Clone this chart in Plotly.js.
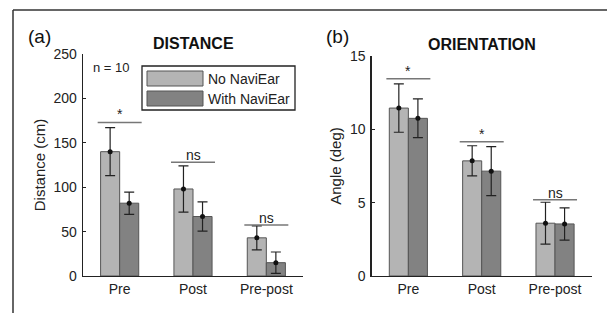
<!DOCTYPE html>
<html>
<head>
<meta charset="utf-8">
<script src="https://cdn.plot.ly/plotly-3.0.1.min.js"></script>
<style>html,body{margin:0;padding:0;background:#fff;}#chart{width:607px;height:313px;}</style>
</head>
<body>
<div id="chart"></div>
<script>
// ---- data ----
var categories = ['Pre', 'Post', 'Pre-post'];
var seriesNames = ['No NaviEar', 'With NaviEar'];

var distNo = [140, 98, 43];
var distNoErr = [27, 26, 13.5];
var distWith = [82, 67, 15];
var distWithErr = [12.5, 16.5, 12];
var distSigY = [173, 128, 57.5];
var distSigLabel = ['*', 'ns', 'ns'];

var angNo = [11.45, 7.85, 3.6];
var angNoErr = [1.65, 1.03, 1.43];
var angWith = [10.75, 7.15, 3.55];
var angWithErr = [1.32, 1.67, 1.1];
var angSigY = [13.45, 9.15, 5.2];
var angSigLabel = ['*', '*', 'ns'];

var distTicks = [0, 50, 100, 150, 200, 250];
var angTicks = [0, 5, 10, 15];

// ---- style ----
var W = 607, H = 313;
var FONT = 'Liberation Sans, Arial, sans-serif';
var lightCol = '#b4b4b4', darkCol = '#828282', edgeCol = '#555555';
var barW = 0.26;
function px(x) { return x / W; }
function py(y) { return 1 - y / H; }
var idx = categories.map(function (c, i) { return i; });

function panelTraces(noVals, noErr, withVals, withErr, xa, ya) {
  var xNo = idx.map(function (i) { return i - barW / 2; });
  var xWith = idx.map(function (i) { return i + barW / 2; });
  var common = { type: 'bar', width: barW, xaxis: xa, yaxis: ya, hoverinfo: 'skip' };
  return [
    Object.assign({}, common, { name: seriesNames[0], x: idx, y: noVals, offset: -barW,
      marker: { color: lightCol, line: { color: edgeCol, width: 1 } } }),
    Object.assign({}, common, { name: seriesNames[1], x: idx, y: withVals, offset: 0,
      marker: { color: darkCol, line: { color: edgeCol, width: 1 } } }),
    { type: 'scatter', mode: 'markers', x: xNo, y: noVals, xaxis: xa, yaxis: ya,
      marker: { color: '#111', size: 5 }, hoverinfo: 'skip',
      error_y: { type: 'data', array: noErr, visible: true, color: '#222', thickness: 1.2, width: 5 } },
    { type: 'scatter', mode: 'markers', x: xWith, y: withVals, xaxis: xa, yaxis: ya,
      marker: { color: '#111', size: 5 }, hoverinfo: 'skip',
      error_y: { type: 'data', array: withErr, visible: true, color: '#222', thickness: 1.2, width: 5 } }
  ];
}

var data = panelTraces(distNo, distNoErr, distWith, distWithErr, 'x', 'y')
  .concat(panelTraces(angNo, angNoErr, angWith, angWithErr, 'x2', 'y2'));

var shapes = [];
var annotations = [];

function addSig(sigY, sigLab, xr, yr) {
  sigY.forEach(function (v, i) {
    shapes.push({ type: 'line', xref: xr, yref: yr, x0: i - 0.3, x1: i + 0.3, y0: v, y1: v,
      line: { color: '#777', width: 1.5 } });
    annotations.push({ xref: xr, yref: yr, x: i, y: v, text: sigLab[i], showarrow: false,
      xanchor: 'center', yanchor: 'bottom', yshift: sigLab[i] === '*' ? -2 : -3,
      font: { family: FONT, size: 14, color: '#222' } });
  });
}
addSig(distSigY, distSigLabel, 'x', 'y');
addSig(angSigY, angSigLabel, 'x2', 'y2');

// outer frame (top and left edges)
shapes.push({ type: 'line', xref: 'paper', yref: 'paper', x0: px(13), x1: 1, y0: py(10), y1: py(10), line: { color: '#333', width: 1.5 } });
shapes.push({ type: 'line', xref: 'paper', yref: 'paper', x0: px(13), x1: px(13), y0: py(10), y1: 0, line: { color: '#333', width: 1.5 } });

// legend (drawn manually)
shapes.push({ type: 'rect', xref: 'paper', yref: 'paper', x0: px(142), x1: px(295), y0: py(110), y1: py(66), line: { color: '#222', width: 1.3 }, fillcolor: '#fff' });
shapes.push({ type: 'rect', xref: 'paper', yref: 'paper', x0: px(147), x1: px(203), y0: py(86), y1: py(71), line: { color: edgeCol, width: 1 }, fillcolor: lightCol });
shapes.push({ type: 'rect', xref: 'paper', yref: 'paper', x0: px(147), x1: px(203), y0: py(106), y1: py(91), line: { color: edgeCol, width: 1 }, fillcolor: darkCol });
annotations.push({ xref: 'paper', yref: 'paper', x: px(206), y: py(78.5), text: seriesNames[0], showarrow: false, xanchor: 'left', yanchor: 'middle', font: { family: FONT, size: 14, color: '#222' } });
annotations.push({ xref: 'paper', yref: 'paper', x: px(206), y: py(98.5), text: seriesNames[1], showarrow: false, xanchor: 'left', yanchor: 'middle', font: { family: FONT, size: 14, color: '#222' } });

// titles and labels
annotations.push({ xref: 'paper', yref: 'paper', x: px(26), y: py(37), text: '(a)', showarrow: false, xanchor: 'left', yanchor: 'middle', font: { family: FONT, size: 19, color: '#111' } });
annotations.push({ xref: 'paper', yref: 'paper', x: px(194), y: py(43), text: '<b>DISTANCE</b>', showarrow: false, xanchor: 'center', yanchor: 'middle', font: { family: FONT, size: 16, color: '#111' } });
annotations.push({ xref: 'paper', yref: 'paper', x: px(324), y: py(37), text: '(b)', showarrow: false, xanchor: 'left', yanchor: 'middle', font: { family: FONT, size: 19, color: '#111' } });
annotations.push({ xref: 'paper', yref: 'paper', x: px(482), y: py(45), text: '<b>ORIENTATION</b>', showarrow: false, xanchor: 'center', yanchor: 'middle', font: { family: FONT, size: 16, color: '#111' } });
annotations.push({ xref: 'paper', yref: 'paper', x: px(91), y: py(67), text: 'n = 10', showarrow: false, xanchor: 'left', yanchor: 'middle', font: { family: FONT, size: 13, color: '#222' } });

var tickFont = { family: FONT, size: 14, color: '#222' };
function xAxis(dom) {
  return { domain: dom, range: [-0.5, 2.5], tickmode: 'array', tickvals: idx, ticktext: categories,
    showline: true, linecolor: '#222', linewidth: 1.3, ticks: '', showgrid: false, zeroline: false,
    tickfont: tickFont, fixedrange: true };
}
function yAxis(dom, range, ticks, title, anchor) {
  return { domain: dom, range: range, tickmode: 'array', tickvals: ticks, anchor: anchor,
    showline: true, linecolor: '#222', linewidth: 1.3, ticks: 'inside', ticklen: 3, tickcolor: '#222',
    showgrid: false, zeroline: false, tickfont: tickFont, ticklabelstandoff: 2,
    title: { text: title, font: { family: FONT, size: 15, color: '#222' }, standoff: 4 }, fixedrange: true };
}

var layout = {
  width: W, height: H, margin: { l: 0, r: 0, t: 0, b: 0 },
  paper_bgcolor: '#fff', plot_bgcolor: 'rgba(0,0,0,0)', showlegend: false,
  barmode: 'overlay',
  xaxis: Object.assign(xAxis([px(83), px(303)]), { anchor: 'y' }),
  yaxis: yAxis([py(276), py(54)], [0, 250], distTicks, 'Distance (cm)', 'x'),
  xaxis2: Object.assign(xAxis([px(371.7), px(591.7)]), { anchor: 'y2' }),
  yaxis2: yAxis([py(276), py(56)], [0, 15], angTicks, 'Angle (deg)', 'x2'),
  shapes: shapes, annotations: annotations
};

Plotly.newPlot('chart', data, layout, { staticPlot: true, displayModeBar: false });
</script>
</body>
</html>
